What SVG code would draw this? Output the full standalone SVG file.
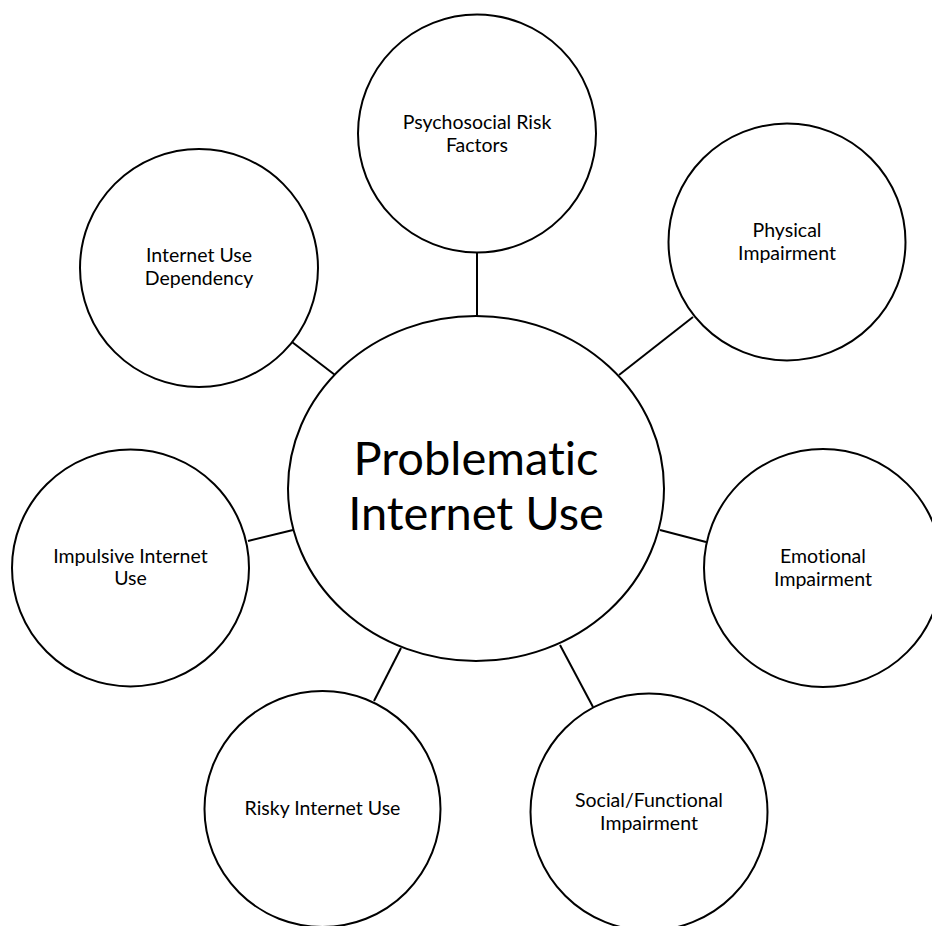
<svg xmlns="http://www.w3.org/2000/svg" width="932" height="926" viewBox="0 0 932 926">
<style>
.n{fill:#fff;stroke:#000;stroke-width:2}
.c line{stroke:#000;stroke-width:2}
text{font-family:Lato,"Liberation Sans",sans-serif;fill:#000;text-anchor:middle;font-variant-ligatures:none;font-feature-settings:"liga" 0}
.s{font-size:19.5px}
.b{font-size:47px}
</style>
<rect width="932" height="926" fill="#fff"/>
<g id="connectors" class="c">
<line x1="477" y1="252" x2="477" y2="316"/>
<line x1="693" y1="317" x2="619" y2="375"/>
<line x1="292" y1="342" x2="335" y2="375"/>
<line x1="660" y1="530" x2="706" y2="542"/>
<line x1="248" y1="541" x2="293" y2="530"/>
<line x1="374" y1="701" x2="401" y2="648"/>
<line x1="560" y1="645" x2="593" y2="707"/>
</g>
<g id="center">
<ellipse class="n" cx="476" cy="488.5" rx="188" ry="172.5"/>
<text class="b" x="476" y="475">Problematic</text>
<text class="b" x="476" y="530">Internet Use</text>
</g>
<g id="psychosocial">
<circle class="n" cx="477" cy="133.5" r="119"/>
<text class="s" x="477" y="129">Psychosocial Risk</text>
<text class="s" x="477" y="151.5">Factors</text>
</g>
<g id="physical">
<circle class="n" cx="787" cy="242" r="118.5"/>
<text class="s" x="787" y="237">Physical</text>
<text class="s" x="787" y="259.5">Impairment</text>
</g>
<g id="dependency">
<circle class="n" cx="199" cy="268" r="119"/>
<text class="s" x="199" y="262">Internet Use</text>
<text class="s" x="199" y="285">Dependency</text>
</g>
<g id="emotional">
<circle class="n" cx="823" cy="568" r="119"/>
<text class="s" x="823" y="563">Emotional</text>
<text class="s" x="823" y="585.5">Impairment</text>
</g>
<g id="impulsive">
<circle class="n" cx="130.5" cy="568" r="118.5"/>
<text class="s" x="130.5" y="563">Impulsive Internet</text>
<text class="s" x="130.5" y="585">Use</text>
</g>
<g id="risky">
<circle class="n" cx="322.5" cy="809" r="118"/>
<text class="s" x="322.5" y="814.5">Risky Internet Use</text>
</g>
<g id="social">
<circle class="n" cx="649" cy="812" r="118.5"/>
<text class="s" x="649" y="807">Social/Functional</text>
<text class="s" x="649" y="829.5">Impairment</text>
</g>
</svg>
